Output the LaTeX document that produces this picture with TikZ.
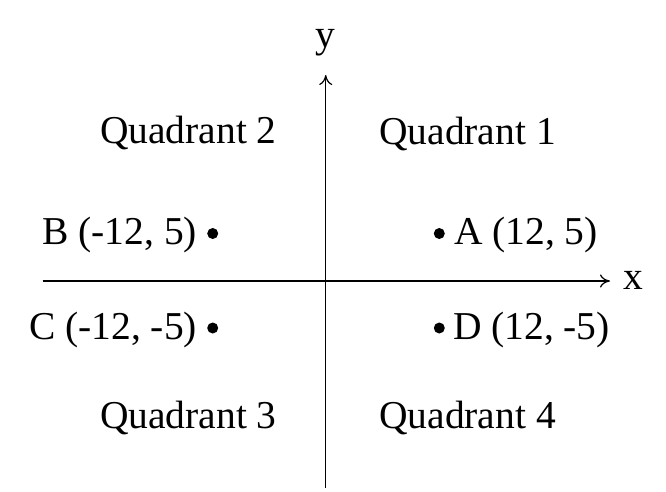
\documentclass[tikz,border=0pt]{standalone}
\usepackage{fontspec}
\setmainfont{Liberation Serif}
\usetikzlibrary{arrows.meta}
\tikzset{
  lbl/.style={inner sep=0pt, outer sep=0pt, font=\fontsize{39.5}{45}\selectfont},
  axis/.style={line width=1.2pt, -{To[length=10pt,width=13pt]}},
  dotpt/.style={circle, fill=black, inner sep=0pt, minimum size=11pt}
}
\begin{document}
\begin{tikzpicture}[x=1pt,y=-1pt]
\useasboundingbox (0,0) rectangle (666,492);
% axes
\coordinate (xs) at (42.7,281);
\coordinate (xe) at (610,281);
\coordinate (ys) at (325.7,488);
\coordinate (ye) at (325.7,75);
\draw[axis] (xs) -- (xe);
\draw[axis] (ys) -- (ye);
\node[lbl, anchor=base] (xl) at (633,289) {x};
\node[lbl, anchor=base] (yl) at (325.5,48) {y};
% quadrant labels
\node[lbl, anchor=base] (q1) at (467.5,144) {Quadrant 1};
\node[lbl, anchor=base] (q2) at (188.4,143) {Quadrant 2};
\node[lbl, anchor=base] (q3) at (188.4,428) {Quadrant 3};
\node[lbl, anchor=base] (q4) at (467.5,428) {Quadrant 4};
% points
\node[dotpt] (pa) at (439.3,233.5) {};
\node[dotpt] (pb) at (212.7,233.5) {};
\node[dotpt] (pc) at (212.7,328) {};
\node[dotpt] (pd) at (439.3,328) {};
\node[lbl, anchor=base west] (la) at (454,244) {A (12, 5)};
\node[lbl, anchor=base east] (lb) at (197,244) {B (-12, 5)};
\node[lbl, anchor=base east] (lc) at (197,339) {C (-12, -5)};
\node[lbl, anchor=base west] (ld) at (453,339) {D (12, -5)};
\end{tikzpicture}
\end{document}
